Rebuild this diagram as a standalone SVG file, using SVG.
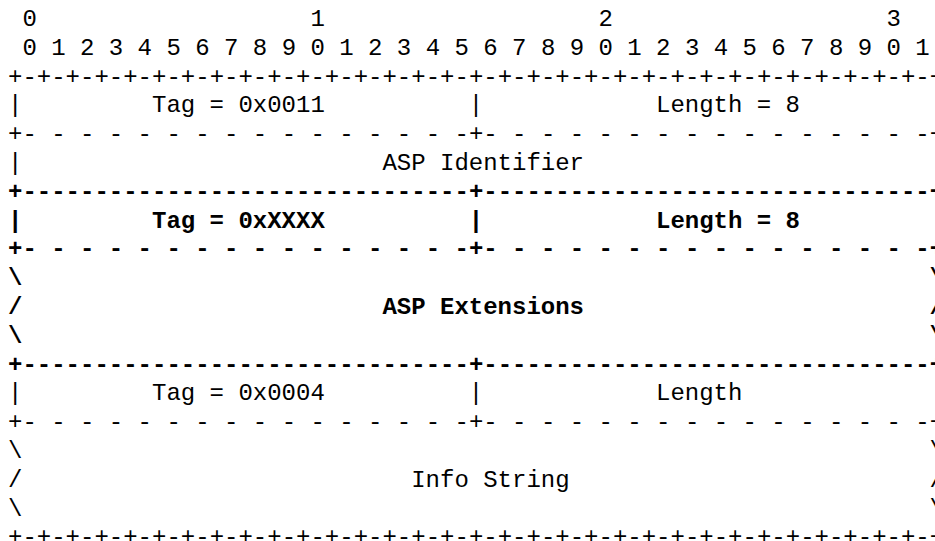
<svg xmlns="http://www.w3.org/2000/svg" width="935" height="541" viewBox="0 0 935 541">
<style>
  text { font-family: "Liberation Mono", "DejaVu Sans Mono", monospace; font-size: 24px; fill: #000; white-space: pre; }
  .b { font-weight: bold; }
</style>
<rect x="0" y="0" width="935" height="541" fill="#fff"/>
<g id="ruler">
  <text x="22.4" y="26">0</text>
  <text x="310.4" y="26">1</text>
  <text x="598.4" y="26">2</text>
  <text x="886.4" y="26">3</text>
  <text x="22.4" y="54.8" xml:space="preserve">0 1 2 3 4 5 6 7 8 9 0 1 2 3 4 5 6 7 8 9 0 1 2 3 4 5 6 7 8 9 0 1</text>
</g>
<g id="connectors">
  <text x="8" y="83.6">+-+-+-+-+-+-+-+-+-+-+-+-+-+-+-+-+-+-+-+-+-+-+-+-+-+-+-+-+-+-+-+-+</text>
  <text x="8" y="112.4">|</text><text x="468.8" y="112.4">|</text><text x="929.6" y="112.4">|</text>
  <text x="8" y="141.2" xml:space="preserve">+- - - - - - - - - - - - - - - -+- - - - - - - - - - - - - - - -+</text>
  <text x="8" y="170">|</text><text x="929.6" y="170">|</text>
  <text class="b" x="8" y="198.8">+-------------------------------+-------------------------------+</text>
  <text class="b" x="8" y="227.6">|</text><text class="b" x="468.8" y="227.6">|</text><text x="929.6" y="227.6">|</text>
  <text class="b" x="8" y="256.4" xml:space="preserve">+- - - - - - - - - - - - - - - -+- - - - - - - - - - - - - - - -+</text>
  <text class="b" x="8" y="285.2">\</text><text class="b" x="929.6" y="285.2">\</text>
  <text class="b" x="8" y="314">/</text><text class="b" x="929.6" y="314">/</text>
  <text class="b" x="8" y="342.8">\</text><text class="b" x="929.6" y="342.8">\</text>
  <text class="b" x="8" y="371.6">+-------------------------------+-------------------------------+</text>
  <text x="8" y="400.4">|</text><text x="468.8" y="400.4">|</text><text x="929.6" y="400.4">|</text>
  <text x="8" y="429.2" xml:space="preserve">+- - - - - - - - - - - - - - - -+- - - - - - - - - - - - - - - -+</text>
  <text x="8" y="458">\</text><text x="929.6" y="458">\</text>
  <text x="8" y="486.8">/</text><text x="929.6" y="486.8">/</text>
  <text x="8" y="515.6">\</text><text x="929.6" y="515.6">\</text>
  <text x="8" y="544.4">+-+-+-+-+-+-+-+-+-+-+-+-+-+-+-+-+-+-+-+-+-+-+-+-+-+-+-+-+-+-+-+-+</text>
</g>
<g id="tag-0011"><text x="152" y="112.4">Tag = 0x0011</text></g>
<g id="length-8"><text x="656" y="112.4">Length = 8</text></g>
<g id="asp-identifier"><text x="382.4" y="170">ASP Identifier</text></g>
<g id="tag-xxxx"><text class="b" x="152" y="227.6">Tag = 0xXXXX</text></g>
<g id="length-8-ext"><text class="b" x="656" y="227.6">Length = 8</text></g>
<g id="asp-extensions"><text class="b" x="382.4" y="314">ASP Extensions</text></g>
<g id="tag-0004"><text x="152" y="400.4">Tag = 0x0004</text></g>
<g id="length"><text x="656" y="400.4">Length</text></g>
<g id="info-string"><text x="411.2" y="486.8">Info String</text></g>
</svg>
